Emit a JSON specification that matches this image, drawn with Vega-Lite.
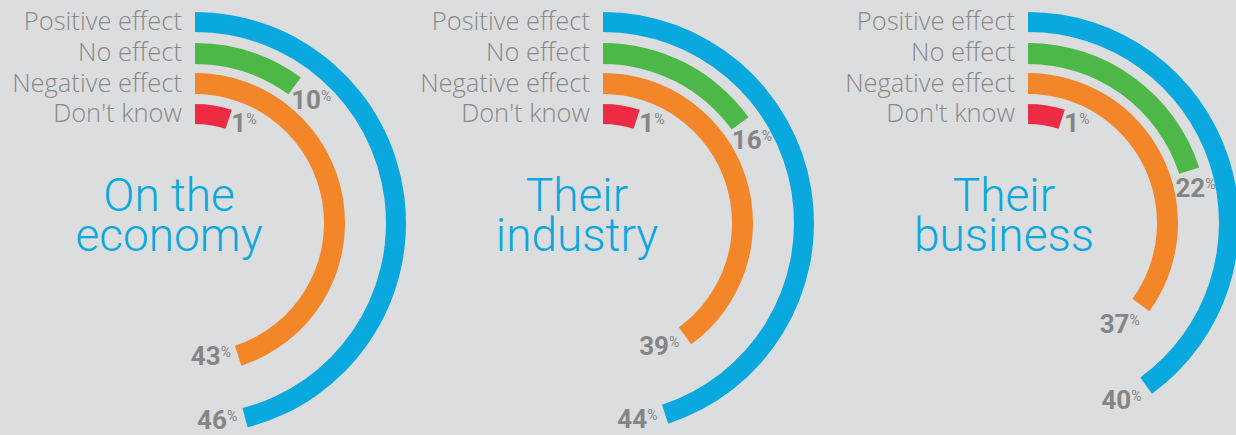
{
  "$schema": "https://vega.github.io/schema/vega-lite/v6.json",
  "background": "#DCDDDF",
  "padding": 0,
  "spacing": 0,
  "bounds": "flush",
  "config": {"view": {"stroke": null}, "text": {"font": "Roboto"}},
  "data": {"values": [
    {"id": "economy", "title": "On the\neconomy", "band": "Positive effect", "value": 46, "drawn": 46},
    {"id": "economy", "title": "On the\neconomy", "band": "No effect", "value": 10, "drawn": 10},
    {"id": "economy", "title": "On the\neconomy", "band": "Negative effect", "value": 43, "drawn": 45},
    {"id": "economy", "title": "On the\neconomy", "band": "Don't know", "value": 1, "drawn": 5},
    {"id": "industry", "title": "Their\nindustry", "band": "Positive effect", "value": 44, "drawn": 45},
    {"id": "industry", "title": "Their\nindustry", "band": "No effect", "value": 16, "drawn": 15},
    {"id": "industry", "title": "Their\nindustry", "band": "Negative effect", "value": 39, "drawn": 40},
    {"id": "industry", "title": "Their\nindustry", "band": "Don't know", "value": 1, "drawn": 5},
    {"id": "business", "title": "Their\nbusiness", "band": "Positive effect", "value": 40, "drawn": 40},
    {"id": "business", "title": "Their\nbusiness", "band": "No effect", "value": 22, "drawn": 20},
    {"id": "business", "title": "Their\nbusiness", "band": "Negative effect", "value": 37, "drawn": 35},
    {"id": "business", "title": "Their\nbusiness", "band": "Don't know", "value": 1, "drawn": 5}
  ]},
  "hconcat": [
    {
      "width": 390, "height": 446,
      "transform": [{"filter": {"field": "id", "equal": "economy"}}],
      "resolve": {"scale": {"theta": "independent"}},
      "layer": [
        {"transform": [{"filter": {"field": "band", "equal": "Positive effect"}}], "mark": {"type": "text", "lineBreak": "\n", "align": "center", "baseline": "alphabetic", "dx": -26, "dy": -12, "fontSize": 46, "fontWeight": 300, "lineHeight": 40, "color": "#0AA8DE"}, "encoding": {"text": {"field": "title"}}},
        {"transform": [{"filter": {"field": "band", "equal": "Positive effect"}}], "mark": {"type": "text", "theta": 0, "radius": 201, "align": "right", "baseline": "middle", "dx": -13, "font": "Open Sans", "fontSize": 25.5, "fontWeight": 300, "color": "#888888"}, "encoding": {"text": {"field": "band"}}},
        {"transform": [{"filter": {"field": "band", "equal": "No effect"}}], "mark": {"type": "text", "theta": 0, "radius": 170, "align": "right", "baseline": "middle", "dx": -13, "font": "Open Sans", "fontSize": 25.5, "fontWeight": 300, "color": "#888888"}, "encoding": {"text": {"field": "band"}}},
        {"transform": [{"filter": {"field": "band", "equal": "Negative effect"}}], "mark": {"type": "text", "theta": 0, "radius": 139.5, "align": "right", "baseline": "middle", "dx": -13, "font": "Open Sans", "fontSize": 25.5, "fontWeight": 300, "color": "#888888"}, "encoding": {"text": {"field": "band"}}},
        {"transform": [{"filter": {"field": "band", "equal": "Don't know"}}], "mark": {"type": "text", "theta": 0, "radius": 109, "align": "right", "baseline": "middle", "dx": -13, "font": "Open Sans", "fontSize": 25.5, "fontWeight": 300, "color": "#888888"}, "encoding": {"text": {"field": "band"}}},
        {"transform": [{"filter": {"field": "band", "equal": "Positive effect"}}], "mark": {"type": "arc", "radius": 211, "radius2": 191, "color": "#09A8DF"}, "encoding": {"theta": {"field": "drawn", "type": "quantitative", "scale": {"domain": [0, 100], "range": [0, 6.28319]}}}},
        {"transform": [{"filter": {"field": "band", "equal": "No effect"}}], "mark": {"type": "arc", "radius": 180, "radius2": 159, "color": "#4DB848"}, "encoding": {"theta": {"field": "drawn", "type": "quantitative", "scale": {"domain": [0, 100], "range": [0, 6.28319]}}}},
        {"transform": [{"filter": {"field": "band", "equal": "Negative effect"}}], "mark": {"type": "arc", "radius": 150, "radius2": 129, "color": "#F4862A"}, "encoding": {"theta": {"field": "drawn", "type": "quantitative", "scale": {"domain": [0, 100], "range": [0, 6.28319]}}}},
        {"transform": [{"filter": {"field": "band", "equal": "Don't know"}}], "mark": {"type": "arc", "radius": 119, "radius2": 99, "color": "#EE2B45"}, "encoding": {"theta": {"field": "drawn", "type": "quantitative", "scale": {"domain": [0, 100], "range": [0, 6.28319]}}}},
        {"transform": [{"filter": {"field": "band", "equal": "Positive effect"}}], "mark": {"type": "text", "radius": 198, "align": "center", "baseline": "alphabetic", "dy": 9, "fontSize": 26, "fontWeight": "bold", "color": "#858585"}, "encoding": {"theta": {"field": "drawn", "type": "quantitative", "scale": {"domain": [0, 100], "range": [0.1658, 6.4490]}}, "text": {"field": "value", "type": "quantitative"}}},
        {"transform": [{"filter": {"field": "band", "equal": "No effect"}}], "mark": {"type": "text", "radius": 166, "align": "center", "baseline": "alphabetic", "dy": 9, "fontSize": 26, "fontWeight": "bold", "color": "#858585"}, "encoding": {"theta": {"field": "drawn", "type": "quantitative", "scale": {"domain": [0, 100], "range": [0.1047, 6.3879]}}, "text": {"field": "value", "type": "quantitative"}}},
        {"transform": [{"filter": {"field": "band", "equal": "Negative effect"}}], "mark": {"type": "text", "radius": 133, "align": "center", "baseline": "alphabetic", "dy": 9, "fontSize": 26, "fontWeight": "bold", "color": "#858585"}, "encoding": {"theta": {"field": "drawn", "type": "quantitative", "scale": {"domain": [0, 100], "range": [0.2339, 6.5171]}}, "text": {"field": "value", "type": "quantitative"}}},
        {"transform": [{"filter": {"field": "band", "equal": "Don't know"}}], "mark": {"type": "text", "radius": 109, "align": "center", "baseline": "alphabetic", "dy": 9, "fontSize": 26, "fontWeight": "bold", "color": "#858585"}, "encoding": {"theta": {"field": "drawn", "type": "quantitative", "scale": {"domain": [0, 100], "range": [0.0977, 6.3809]}}, "text": {"field": "value", "type": "quantitative"}}},
        {"transform": [{"filter": {"field": "band", "equal": "Positive effect"}}], "mark": {"type": "text", "radius": 198, "align": "left", "baseline": "alphabetic", "dx": 15, "dy": 1, "fontSize": 14, "color": "#858585"}, "encoding": {"theta": {"field": "drawn", "type": "quantitative", "scale": {"domain": [0, 100], "range": [0.1658, 6.4490]}}, "text": {"value": "%"}}},
        {"transform": [{"filter": {"field": "band", "equal": "No effect"}}], "mark": {"type": "text", "radius": 166, "align": "left", "baseline": "alphabetic", "dx": 15, "dy": 1, "fontSize": 14, "color": "#858585"}, "encoding": {"theta": {"field": "drawn", "type": "quantitative", "scale": {"domain": [0, 100], "range": [0.1047, 6.3879]}}, "text": {"value": "%"}}},
        {"transform": [{"filter": {"field": "band", "equal": "Negative effect"}}], "mark": {"type": "text", "radius": 133, "align": "left", "baseline": "alphabetic", "dx": 15, "dy": 1, "fontSize": 14, "color": "#858585"}, "encoding": {"theta": {"field": "drawn", "type": "quantitative", "scale": {"domain": [0, 100], "range": [0.2339, 6.5171]}}, "text": {"value": "%"}}},
        {"transform": [{"filter": {"field": "band", "equal": "Don't know"}}], "mark": {"type": "text", "radius": 109, "align": "left", "baseline": "alphabetic", "dx": 7.5, "dy": 1, "fontSize": 14, "color": "#858585"}, "encoding": {"theta": {"field": "drawn", "type": "quantitative", "scale": {"domain": [0, 100], "range": [0.0977, 6.3809]}}, "text": {"value": "%"}}}
      ]
    },
    {
      "width": 426, "height": 446,
      "transform": [{"filter": {"field": "id", "equal": "industry"}}],
      "resolve": {"scale": {"theta": "independent"}},
      "layer": [
        {"transform": [{"filter": {"field": "band", "equal": "Positive effect"}}], "mark": {"type": "text", "lineBreak": "\n", "align": "center", "baseline": "alphabetic", "dx": -26, "dy": -12, "fontSize": 46, "fontWeight": 300, "lineHeight": 40, "color": "#0AA8DE"}, "encoding": {"text": {"field": "title"}}},
        {"transform": [{"filter": {"field": "band", "equal": "Positive effect"}}], "mark": {"type": "text", "theta": 0, "radius": 201, "align": "right", "baseline": "middle", "dx": -13, "font": "Open Sans", "fontSize": 25.5, "fontWeight": 300, "color": "#888888"}, "encoding": {"text": {"field": "band"}}},
        {"transform": [{"filter": {"field": "band", "equal": "No effect"}}], "mark": {"type": "text", "theta": 0, "radius": 170, "align": "right", "baseline": "middle", "dx": -13, "font": "Open Sans", "fontSize": 25.5, "fontWeight": 300, "color": "#888888"}, "encoding": {"text": {"field": "band"}}},
        {"transform": [{"filter": {"field": "band", "equal": "Negative effect"}}], "mark": {"type": "text", "theta": 0, "radius": 139.5, "align": "right", "baseline": "middle", "dx": -13, "font": "Open Sans", "fontSize": 25.5, "fontWeight": 300, "color": "#888888"}, "encoding": {"text": {"field": "band"}}},
        {"transform": [{"filter": {"field": "band", "equal": "Don't know"}}], "mark": {"type": "text", "theta": 0, "radius": 109, "align": "right", "baseline": "middle", "dx": -13, "font": "Open Sans", "fontSize": 25.5, "fontWeight": 300, "color": "#888888"}, "encoding": {"text": {"field": "band"}}},
        {"transform": [{"filter": {"field": "band", "equal": "Positive effect"}}], "mark": {"type": "arc", "radius": 211, "radius2": 191, "color": "#09A8DF"}, "encoding": {"theta": {"field": "drawn", "type": "quantitative", "scale": {"domain": [0, 100], "range": [0, 6.28319]}}}},
        {"transform": [{"filter": {"field": "band", "equal": "No effect"}}], "mark": {"type": "arc", "radius": 180, "radius2": 159, "color": "#4DB848"}, "encoding": {"theta": {"field": "drawn", "type": "quantitative", "scale": {"domain": [0, 100], "range": [0, 6.28319]}}}},
        {"transform": [{"filter": {"field": "band", "equal": "Negative effect"}}], "mark": {"type": "arc", "radius": 150, "radius2": 129, "color": "#F4862A"}, "encoding": {"theta": {"field": "drawn", "type": "quantitative", "scale": {"domain": [0, 100], "range": [0, 6.28319]}}}},
        {"transform": [{"filter": {"field": "band", "equal": "Don't know"}}], "mark": {"type": "arc", "radius": 119, "radius2": 99, "color": "#EE2B45"}, "encoding": {"theta": {"field": "drawn", "type": "quantitative", "scale": {"domain": [0, 100], "range": [0, 6.28319]}}}},
        {"transform": [{"filter": {"field": "band", "equal": "Positive effect"}}], "mark": {"type": "text", "radius": 198, "align": "center", "baseline": "alphabetic", "dy": 9, "fontSize": 26, "fontWeight": "bold", "color": "#858585"}, "encoding": {"theta": {"field": "drawn", "type": "quantitative", "scale": {"domain": [0, 100], "range": [0.1658, 6.4490]}}, "text": {"field": "value", "type": "quantitative"}}},
        {"transform": [{"filter": {"field": "band", "equal": "No effect"}}], "mark": {"type": "text", "radius": 166, "align": "center", "baseline": "alphabetic", "dy": 9, "fontSize": 26, "fontWeight": "bold", "color": "#858585"}, "encoding": {"theta": {"field": "drawn", "type": "quantitative", "scale": {"domain": [0, 100], "range": [0.1047, 6.3879]}}, "text": {"field": "value", "type": "quantitative"}}},
        {"transform": [{"filter": {"field": "band", "equal": "Negative effect"}}], "mark": {"type": "text", "radius": 133, "align": "center", "baseline": "alphabetic", "dy": 9, "fontSize": 26, "fontWeight": "bold", "color": "#858585"}, "encoding": {"theta": {"field": "drawn", "type": "quantitative", "scale": {"domain": [0, 100], "range": [0.2339, 6.5171]}}, "text": {"field": "value", "type": "quantitative"}}},
        {"transform": [{"filter": {"field": "band", "equal": "Don't know"}}], "mark": {"type": "text", "radius": 109, "align": "center", "baseline": "alphabetic", "dy": 9, "fontSize": 26, "fontWeight": "bold", "color": "#858585"}, "encoding": {"theta": {"field": "drawn", "type": "quantitative", "scale": {"domain": [0, 100], "range": [0.0977, 6.3809]}}, "text": {"field": "value", "type": "quantitative"}}},
        {"transform": [{"filter": {"field": "band", "equal": "Positive effect"}}], "mark": {"type": "text", "radius": 198, "align": "left", "baseline": "alphabetic", "dx": 15, "dy": 1, "fontSize": 14, "color": "#858585"}, "encoding": {"theta": {"field": "drawn", "type": "quantitative", "scale": {"domain": [0, 100], "range": [0.1658, 6.4490]}}, "text": {"value": "%"}}},
        {"transform": [{"filter": {"field": "band", "equal": "No effect"}}], "mark": {"type": "text", "radius": 166, "align": "left", "baseline": "alphabetic", "dx": 15, "dy": 1, "fontSize": 14, "color": "#858585"}, "encoding": {"theta": {"field": "drawn", "type": "quantitative", "scale": {"domain": [0, 100], "range": [0.1047, 6.3879]}}, "text": {"value": "%"}}},
        {"transform": [{"filter": {"field": "band", "equal": "Negative effect"}}], "mark": {"type": "text", "radius": 133, "align": "left", "baseline": "alphabetic", "dx": 15, "dy": 1, "fontSize": 14, "color": "#858585"}, "encoding": {"theta": {"field": "drawn", "type": "quantitative", "scale": {"domain": [0, 100], "range": [0.2339, 6.5171]}}, "text": {"value": "%"}}},
        {"transform": [{"filter": {"field": "band", "equal": "Don't know"}}], "mark": {"type": "text", "radius": 109, "align": "left", "baseline": "alphabetic", "dx": 7.5, "dy": 1, "fontSize": 14, "color": "#858585"}, "encoding": {"theta": {"field": "drawn", "type": "quantitative", "scale": {"domain": [0, 100], "range": [0.0977, 6.3809]}}, "text": {"value": "%"}}}
      ]
    },
    {
      "width": 424, "height": 446,
      "transform": [{"filter": {"field": "id", "equal": "business"}}],
      "resolve": {"scale": {"theta": "independent"}},
      "layer": [
        {"transform": [{"filter": {"field": "band", "equal": "Positive effect"}}], "mark": {"type": "text", "lineBreak": "\n", "align": "center", "baseline": "alphabetic", "dx": -24, "dy": -12, "fontSize": 46, "fontWeight": 300, "lineHeight": 40, "color": "#0AA8DE"}, "encoding": {"text": {"field": "title"}}},
        {"transform": [{"filter": {"field": "band", "equal": "Positive effect"}}], "mark": {"type": "text", "theta": 0, "radius": 201, "align": "right", "baseline": "middle", "dx": -13, "font": "Open Sans", "fontSize": 25.5, "fontWeight": 300, "color": "#888888"}, "encoding": {"text": {"field": "band"}}},
        {"transform": [{"filter": {"field": "band", "equal": "No effect"}}], "mark": {"type": "text", "theta": 0, "radius": 170, "align": "right", "baseline": "middle", "dx": -13, "font": "Open Sans", "fontSize": 25.5, "fontWeight": 300, "color": "#888888"}, "encoding": {"text": {"field": "band"}}},
        {"transform": [{"filter": {"field": "band", "equal": "Negative effect"}}], "mark": {"type": "text", "theta": 0, "radius": 139.5, "align": "right", "baseline": "middle", "dx": -13, "font": "Open Sans", "fontSize": 25.5, "fontWeight": 300, "color": "#888888"}, "encoding": {"text": {"field": "band"}}},
        {"transform": [{"filter": {"field": "band", "equal": "Don't know"}}], "mark": {"type": "text", "theta": 0, "radius": 109, "align": "right", "baseline": "middle", "dx": -13, "font": "Open Sans", "fontSize": 25.5, "fontWeight": 300, "color": "#888888"}, "encoding": {"text": {"field": "band"}}},
        {"transform": [{"filter": {"field": "band", "equal": "Positive effect"}}], "mark": {"type": "arc", "radius": 211, "radius2": 191, "color": "#09A8DF"}, "encoding": {"theta": {"field": "drawn", "type": "quantitative", "scale": {"domain": [0, 100], "range": [0, 6.28319]}}}},
        {"transform": [{"filter": {"field": "band", "equal": "No effect"}}], "mark": {"type": "arc", "radius": 180, "radius2": 159, "color": "#4DB848"}, "encoding": {"theta": {"field": "drawn", "type": "quantitative", "scale": {"domain": [0, 100], "range": [0, 6.28319]}}}},
        {"transform": [{"filter": {"field": "band", "equal": "Negative effect"}}], "mark": {"type": "arc", "radius": 150, "radius2": 129, "color": "#F4862A"}, "encoding": {"theta": {"field": "drawn", "type": "quantitative", "scale": {"domain": [0, 100], "range": [0, 6.28319]}}}},
        {"transform": [{"filter": {"field": "band", "equal": "Don't know"}}], "mark": {"type": "arc", "radius": 119, "radius2": 99, "color": "#EE2B45"}, "encoding": {"theta": {"field": "drawn", "type": "quantitative", "scale": {"domain": [0, 100], "range": [0, 6.28319]}}}},
        {"transform": [{"filter": {"field": "band", "equal": "Positive effect"}}], "mark": {"type": "text", "radius": 198, "align": "center", "baseline": "alphabetic", "dy": 9, "fontSize": 26, "fontWeight": "bold", "color": "#858585"}, "encoding": {"theta": {"field": "drawn", "type": "quantitative", "scale": {"domain": [0, 100], "range": [0.1658, 6.4490]}}, "text": {"field": "value", "type": "quantitative"}}},
        {"transform": [{"filter": {"field": "band", "equal": "No effect"}}], "mark": {"type": "text", "radius": 166, "align": "center", "baseline": "alphabetic", "dy": 9, "fontSize": 26, "fontWeight": "bold", "color": "#858585"}, "encoding": {"theta": {"field": "drawn", "type": "quantitative", "scale": {"domain": [0, 100], "range": [0.1047, 6.3879]}}, "text": {"field": "value", "type": "quantitative"}}},
        {"transform": [{"filter": {"field": "band", "equal": "Negative effect"}}], "mark": {"type": "text", "radius": 133, "align": "center", "baseline": "alphabetic", "dy": 9, "fontSize": 26, "fontWeight": "bold", "color": "#858585"}, "encoding": {"theta": {"field": "drawn", "type": "quantitative", "scale": {"domain": [0, 100], "range": [0.2339, 6.5171]}}, "text": {"field": "value", "type": "quantitative"}}},
        {"transform": [{"filter": {"field": "band", "equal": "Don't know"}}], "mark": {"type": "text", "radius": 109, "align": "center", "baseline": "alphabetic", "dy": 9, "fontSize": 26, "fontWeight": "bold", "color": "#858585"}, "encoding": {"theta": {"field": "drawn", "type": "quantitative", "scale": {"domain": [0, 100], "range": [0.0977, 6.3809]}}, "text": {"field": "value", "type": "quantitative"}}},
        {"transform": [{"filter": {"field": "band", "equal": "Positive effect"}}], "mark": {"type": "text", "radius": 198, "align": "left", "baseline": "alphabetic", "dx": 15, "dy": 1, "fontSize": 14, "color": "#858585"}, "encoding": {"theta": {"field": "drawn", "type": "quantitative", "scale": {"domain": [0, 100], "range": [0.1658, 6.4490]}}, "text": {"value": "%"}}},
        {"transform": [{"filter": {"field": "band", "equal": "No effect"}}], "mark": {"type": "text", "radius": 166, "align": "left", "baseline": "alphabetic", "dx": 15, "dy": 1, "fontSize": 14, "color": "#858585"}, "encoding": {"theta": {"field": "drawn", "type": "quantitative", "scale": {"domain": [0, 100], "range": [0.1047, 6.3879]}}, "text": {"value": "%"}}},
        {"transform": [{"filter": {"field": "band", "equal": "Negative effect"}}], "mark": {"type": "text", "radius": 133, "align": "left", "baseline": "alphabetic", "dx": 15, "dy": 1, "fontSize": 14, "color": "#858585"}, "encoding": {"theta": {"field": "drawn", "type": "quantitative", "scale": {"domain": [0, 100], "range": [0.2339, 6.5171]}}, "text": {"value": "%"}}},
        {"transform": [{"filter": {"field": "band", "equal": "Don't know"}}], "mark": {"type": "text", "radius": 109, "align": "left", "baseline": "alphabetic", "dx": 7.5, "dy": 1, "fontSize": 14, "color": "#858585"}, "encoding": {"theta": {"field": "drawn", "type": "quantitative", "scale": {"domain": [0, 100], "range": [0.0977, 6.3809]}}, "text": {"value": "%"}}}
      ]
    }
  ]
}
